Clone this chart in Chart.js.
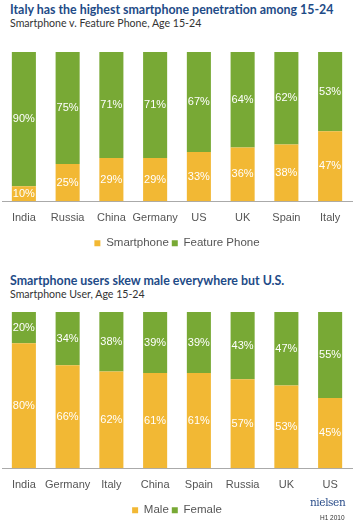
<!DOCTYPE html>
<html>
<head>
<meta charset="utf-8">
<script src="https://cdn.jsdelivr.net/npm/chart.js@4"></script>
<style>
	body{margin:0;background:#fff;width:353px;height:526px;overflow:hidden;position:relative;font-family:"Liberation Sans",Arial,sans-serif}
	.titulo{position:absolute;left:10px;font-family:Lato,sans-serif;font-weight:bold;font-size:12.4px;color:#1e4b87;white-space:nowrap}
	.subtitulo{position:absolute;left:10px;font-family:Lato,sans-serif;font-size:10.6px;color:#333;white-space:nowrap}
	.caja{position:absolute;left:0;width:353px}
	#logo{position:absolute;left:310px;top:496px;font-family:"DejaVu Serif",serif;font-size:10.5px;color:#2a4d8a;letter-spacing:-0.4px}
	#fecha{position:absolute;left:320px;top:514px;font-size:6.5px;color:#333}
</style>
</head>
<body>
<div class="titulo" style="top:2px">Italy has the highest smartphone penetration among 15-24</div>
<div class="subtitulo" style="top:17px">Smartphone v. Feature Phone, Age 15-24</div>
<div class="caja" style="top:40px;height:220px"><canvas id="grafico1"></canvas></div>

<div class="titulo" style="top:273px">Smartphone users skew male everywhere but U.S.</div>
<div class="subtitulo" style="top:288px">Smartphone User, Age 15-24</div>
<div class="caja" style="top:300px;height:226px"><canvas id="grafico2"></canvas></div>

<div id="logo">nielsen</div>
<div id="fecha">H1 2010</div>

<script>
const paises1 = ["India","Russia","China","Germany","US","UK","Spain","Italy"]
const smartphone = [10,25,29,29,33,36,38,47]
const featurePhone = [90,75,71,71,67,64,62,53]

const paises2 = ["India","Germany","Italy","China","Spain","Russia","UK","US"]
const hombres = [80,66,62,61,61,57,53,45]
const mujeres = [20,34,38,39,39,43,47,55]

const amarillo = "#f2b834"
const verde = "#78a935"

// etiquetas blancas en el centro de cada segmento
const etiquetas = {
	id: "etiquetas",
	afterDatasetsDraw(chart){
		const ctx = chart.ctx
		ctx.save()
		ctx.fillStyle = "#fff"
		ctx.font = "11px 'Liberation Sans', Arial"
		ctx.textAlign = "center"
		ctx.textBaseline = "middle"
		chart.data.datasets.forEach((ds, i) => {
			chart.getDatasetMeta(i).data.forEach((barra, j) => {
				const medio = (barra.y + barra.base) / 2
				ctx.fillText(ds.data[j] + "%", barra.x, medio)
			})
		})
		ctx.restore()
	}
}

function opciones(abajo){
	return {
		responsive: true,
		maintainAspectRatio: false,
		animation: false,
		layout: {padding: {top: 12, left: 2, right: 1, bottom: abajo}},
		scales: {
			x: {
				stacked: true,
				grid: {display: false, drawTicks: false},
				border: {color: "#aaa", width: 1},
				ticks: {color: "#555", font: {size: 11, family: "'Liberation Sans', Arial"}, padding: 10, maxRotation: 0, autoSkip: false}
			},
			y: {stacked: true, display: false, min: 0, max: 100}
		},
		plugins: {
			legend: {
				position: "bottom",
				labels: {boxWidth: 6, boxHeight: 6, color: "#555", font: {size: 11.5, family: "'Liberation Sans', Arial"}, padding: 3}
			},
			tooltip: {enabled: false}
		}
	}
}

new Chart("grafico1", {
	type: "bar",
	data: {
		labels: paises1,
		datasets: [
			{label: "Smartphone", data: smartphone, backgroundColor: amarillo, barPercentage: 0.55, categoryPercentage: 1},
			{label: "Feature Phone", data: featurePhone, backgroundColor: verde, barPercentage: 0.55, categoryPercentage: 1}
		]
	},
	options: opciones(1),
	plugins: [etiquetas]
})

new Chart("grafico2", {
	type: "bar",
	data: {
		labels: paises2,
		datasets: [
			{label: "Male", data: hombres, backgroundColor: amarillo, barPercentage: 0.55, categoryPercentage: 1},
			{label: "Female", data: mujeres, backgroundColor: verde, barPercentage: 0.55, categoryPercentage: 1}
		]
	},
	options: opciones(0),
	plugins: [etiquetas]
})
</script>
</body>
</html>
